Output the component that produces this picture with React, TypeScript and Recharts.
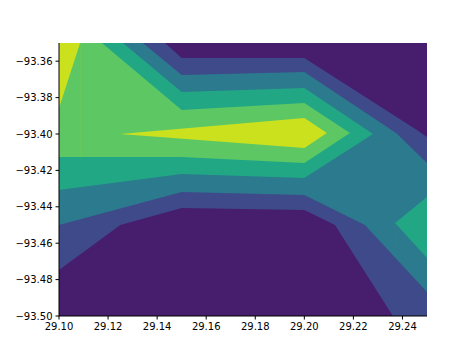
import React from 'react';
import { ComposedChart, Area, XAxis, YAxis, CartesianGrid } from 'recharts';

type Pt = { x: number; y: number };
type RangePt = { x: number; range: [number, number] };

const xTicks = [29.1, 29.12, 29.14, 29.16, 29.18, 29.2, 29.22, 29.24];
const yTicks = [-93.5, -93.48, -93.46, -93.44, -93.42, -93.4, -93.38, -93.36];
const xDomain: [number, number] = [29.1, 29.25];
const yDomain: [number, number] = [-93.5, -93.35];

// band colours, lowest level to highest (viridis)
const bandColors = ['#471d6e', '#3f4a8a', '#2b7a8e', '#22a785', '#5dc863', '#cbe11e'];

// contour boundaries (x, y); each fills downward
const upper1: Pt[] = [
  { x: 29.1, y: -93.35 }, { x: 29.1432, y: -93.35 }, { x: 29.15, y: -93.3582 },
  { x: 29.2, y: -93.3582 }, { x: 29.2459, y: -93.3978 }, { x: 29.25, y: -93.4017 },
];
const upper2: Pt[] = [
  { x: 29.1, y: -93.35 }, { x: 29.1342, y: -93.35 }, { x: 29.15, y: -93.3676 },
  { x: 29.2, y: -93.3659 }, { x: 29.2374, y: -93.3995 }, { x: 29.25, y: -93.4159 },
];
const upper3: Pt[] = [
  { x: 29.1, y: -93.35 }, { x: 29.1261, y: -93.35 }, { x: 29.15, y: -93.3769 },
  { x: 29.2, y: -93.3747 }, { x: 29.228, y: -93.4 },
];
const upper4: Pt[] = [
  { x: 29.1, y: -93.35 }, { x: 29.1175, y: -93.35 }, { x: 29.15, y: -93.3868 },
  { x: 29.2, y: -93.383 }, { x: 29.2186, y: -93.3995 },
];
const cornerTop: Pt[] = [{ x: 29.1, y: -93.35 }, { x: 29.1086, y: -93.35 }];
const cornerLower: Pt[] = [{ x: 29.1, y: -93.3857 }, { x: 29.1086, y: -93.35 }];
const lower4: Pt[] = [
  { x: 29.1, y: -93.4126 }, { x: 29.15, y: -93.4126 }, { x: 29.2, y: -93.4159 }, { x: 29.2186, y: -93.3995 },
];
const lower3: Pt[] = [
  { x: 29.1, y: -93.4308 }, { x: 29.15, y: -93.422 }, { x: 29.2, y: -93.4242 }, { x: 29.228, y: -93.4 },
];
const islandTop: Pt[] = [{ x: 29.237, y: -93.4489 }, { x: 29.25, y: -93.4346 }];
const islandLower: Pt[] = [{ x: 29.237, y: -93.4489 }, { x: 29.25, y: -93.4681 }];
const lower2: Pt[] = [
  { x: 29.1, y: -93.45 }, { x: 29.15, y: -93.4319 }, { x: 29.2, y: -93.4335 },
  { x: 29.2247, y: -93.45 }, { x: 29.25, y: -93.4868 },
];
const lower1: Pt[] = [
  { x: 29.1, y: -93.4747 }, { x: 29.125, y: -93.45 }, { x: 29.15, y: -93.4407 },
  { x: 29.2, y: -93.4418 }, { x: 29.2125, y: -93.45 }, { x: 29.2361, y: -93.5 },
];
// the highest band: a spike between a lower and an upper edge
const spike: RangePt[] = [
  { x: 29.125, range: [-93.4, -93.4] },
  { x: 29.2, range: [-93.4077, -93.3912] },
  { x: 29.2092, range: [-93.3995, -93.3995] },
];

const layersBefore: { data: Pt[]; band: number }[] = [
  { data: upper1, band: 1 },
  { data: upper2, band: 2 },
  { data: upper3, band: 3 },
  { data: upper4, band: 4 },
  { data: cornerTop, band: 5 },
  { data: cornerLower, band: 4 },
  { data: lower4, band: 3 },
  { data: lower3, band: 2 },
  { data: islandTop, band: 3 },
  { data: islandLower, band: 2 },
  { data: lower2, band: 1 },
  { data: lower1, band: 0 },
];

const fmt = (v: number) => (v < 0 ? '\u2212' : '') + Math.abs(v).toFixed(2);
const tickStyle = { fontFamily: 'DejaVu Sans', fontSize: 10, fill: '#000' };

export default function App() {
  return (
    <div style={{ position: 'absolute', left: 0, top: 0, background: '#fff' }}>
      <ComposedChart width={474} height={355} margin={{ top: 43, right: 47, bottom: 0, left: 0 }}>
        <CartesianGrid fill={bandColors[0]} horizontal={false} vertical={false} stroke="none" />
        {layersBefore.map((l, i) => (
          <Area
            key={i}
            data={l.data}
            dataKey="y"
            type="linear"
            fill={bandColors[l.band]}
            fillOpacity={1}
            stroke="none"
            baseValue="dataMin"
            dot={false}
            activeDot={false}
            isAnimationActive={false}
          />
        ))}
        <Area
          data={spike}
          dataKey="range"
          type="linear"
          fill={bandColors[5]}
          fillOpacity={1}
          stroke="none"
          dot={false}
          activeDot={false}
          isAnimationActive={false}
        />
        <XAxis
          dataKey="x"
          type="number"
          domain={xDomain}
          allowDataOverflow
          ticks={xTicks}
          tickFormatter={fmt}
          height={39}
          tickSize={3.5}
          tickMargin={3}
          stroke="#000"
          tick={tickStyle}
          interval={0}
        />
        <YAxis
          type="number"
          domain={yDomain}
          allowDataOverflow
          ticks={yTicks}
          tickFormatter={fmt}
          width={59}
          tickSize={3.5}
          tickMargin={3}
          stroke="#000"
          tick={tickStyle}
          interval={0}
        />
        <XAxis xAxisId="top" orientation="top" type="number" domain={xDomain} allowDataOverflow height={0} tick={false} tickLine={false} stroke="#000" />
        <YAxis yAxisId="right" orientation="right" type="number" domain={yDomain} allowDataOverflow width={0} tick={false} tickLine={false} stroke="#000" />
      </ComposedChart>
    </div>
  );
}
